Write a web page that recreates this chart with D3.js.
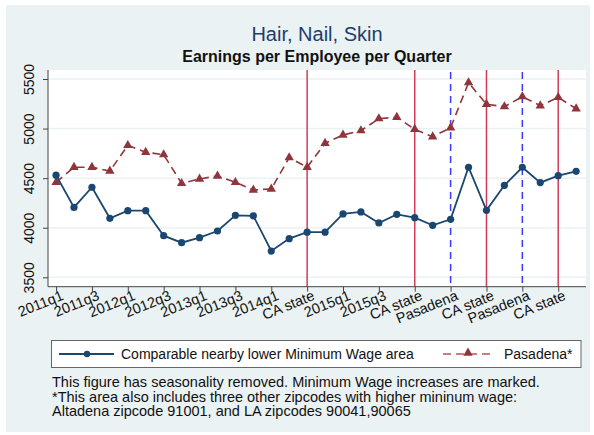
<!DOCTYPE html>
<html><head><meta charset="utf-8">
<script src="https://cdn.jsdelivr.net/npm/d3@7"></script>
<style>body{margin:0;background:#fff;} svg{display:block;font-family:"Liberation Sans",Arial,sans-serif;}</style>
</head><body>
<svg id="c" width="594" height="435"></svg>
<script>
const quarters = ["2011q1","2011q2","2011q3","2011q4","2012q1","2012q2","2012q3","2012q4",
  "2013q1","2013q2","2013q3","2013q4","2014q1","2014q2","2014q3","2014q4",
  "2015q1","2015q2","2015q3","2015q4","2016q1","2016q2","2016q3","2016q4",
  "2017q1","2017q2","2017q3","2017q4","2018q1","2018q2"];
const comparable = [4530,4205,4408,4095,4172,4172,3920,3849,3900,3967,4125,4120,
  3765,3890,3955,3955,4139,4159,4048,4135,4101,4024,4085,4610,4175,4428,4610,4455,4525,4569];
const pasadena = [4458,4610,4610,4572,4831,4761,4737,4448,4492,4522,4458,4381,
  4391,4707,4610,4852,4935,4979,5100,5114,4993,4918,5009,5463,5245,5221,5322,5231,5315,5200];
const xTickQuarters = ["2011q1","2011q3","2012q1","2012q3","2013q1","2013q3","2014q1","2014q3",
  "2015q1","2015q3","2016q1","2016q3","2017q1","2017q3","2018q1"];
const xTickLabels = ["2011q1","2011q3","2012q1","2012q3","2013q1","2013q3","2014q1","CA state",
  "2015q1","2015q3","CA state","Pasadena","CA state","Pasadena","CA state"];
const caIncreases = ["2014q3","2016q1","2017q1","2018q1"];
const pasadenaIncreases = ["2016q3","2017q3"];
const yTicks = [3500,4000,4500,5000,5500];
const seriesNames = ["Comparable nearby lower Minimum Wage area","Pasadena*"];
const noteLines = ["This figure has seasonality removed. Minimum Wage increases are marked.",
  "*This area also includes three other zipcodes with higher mininum wage:",
  "Altadena zipcode 91001, and LA zipcodes 90041,90065"];

const svg = d3.select("#c");
const P = {l:48, r:586, t:70, b:286.7};
const idx = q => quarters.indexOf(q);
const x = d3.scaleLinear().domain([-0.45, 29.55]).range([P.l, P.r]);
const y = d3.scaleLinear().domain([3500,5500]).range([277.3, 79]);
const FF = "Liberation Sans, Arial, sans-serif";

svg.append("rect").attr("x",6).attr("y",5).attr("width",584).attr("height",427).attr("fill","#eaf2f3");
svg.append("rect").attr("x",P.l).attr("y",P.t).attr("width",P.r-P.l).attr("height",P.b-P.t).attr("fill","#fff");

// gridlines
svg.append("g").selectAll("line").data(yTicks).join("line")
  .attr("x1",P.l).attr("x2",P.r).attr("y1",d=>y(d)).attr("y2",d=>y(d))
  .attr("stroke","#eaf2f3").attr("stroke-width",1.5);

// vertical lines
svg.append("g").selectAll("line").data(caIncreases).join("line")
  .attr("x1",d=>x(idx(d))).attr("x2",d=>x(idx(d))).attr("y1",P.t).attr("y2",P.b)
  .attr("stroke","#d23c5a").attr("stroke-width",1.5);
svg.append("g").selectAll("line").data(pasadenaIncreases).join("line")
  .attr("x1",d=>x(idx(d))).attr("x2",d=>x(idx(d))).attr("y1",P.t+2).attr("y2",P.b)
  .attr("stroke","#3a3aff").attr("stroke-width",1.5).attr("stroke-dasharray","7,5");

// axes
const yAxis = svg.append("g").attr("transform",`translate(${P.l},0)`)
  .call(d3.axisLeft(y).tickValues(yTicks).tickSize(5).tickFormat(d3.format("d")));
yAxis.select(".domain").remove();
yAxis.append("line").attr("x1",0).attr("x2",0).attr("y1",P.t).attr("y2",P.b).attr("stroke","#444");
yAxis.selectAll(".tick line").attr("stroke","#444");
yAxis.selectAll(".tick text").attr("transform","rotate(-90)").attr("x",0).attr("y",-14)
  .attr("dy",0).attr("text-anchor","middle").attr("font-size",14).attr("fill","#111")
  .attr("font-family",FF);

const xAxis = svg.append("g").attr("transform",`translate(0,${P.b})`)
  .call(d3.axisBottom(x).tickValues(xTickQuarters.map(idx)).tickSize(5)
    .tickFormat((d,i)=>xTickLabels[i]));
xAxis.select(".domain").remove();
xAxis.append("line").attr("x1",P.l).attr("x2",P.r).attr("stroke","#444");
xAxis.selectAll(".tick line").attr("stroke","#444");
xAxis.selectAll(".tick text").attr("y",0).attr("dy",0)
  .attr("transform","translate(4,3) rotate(-22)").attr("text-anchor","end")
  .attr("dominant-baseline","hanging")
  .attr("font-size",14.5).attr("fill","#111").attr("font-family",FF);

// series
const line = d3.line().x((d,i)=>x(i)).y(d=>y(d));
svg.append("path").datum(pasadena).attr("d",line).attr("fill","none")
  .attr("stroke","#90353b").attr("stroke-width",1.6).attr("stroke-dasharray","8,5");
const tri = d3.symbol().type(d3.symbolTriangle).size(38);
svg.append("g").selectAll("path").data(pasadena).join("path")
  .attr("d",tri).attr("transform",(d,i)=>`translate(${x(i)},${y(d)})`).attr("fill","#90353b");

svg.append("path").datum(comparable).attr("d",line).attr("fill","none")
  .attr("stroke","#1a476f").attr("stroke-width",1.8);
svg.append("g").selectAll("circle").data(comparable).join("circle")
  .attr("cx",(d,i)=>x(i)).attr("cy",d=>y(d)).attr("r",3.6).attr("fill","#1a476f");

// titles
svg.append("text").attr("x",(P.l+P.r)/2).attr("y",41).attr("text-anchor","middle")
  .attr("font-size",20).attr("fill","#1e3d6b").text("Hair, Nail, Skin");
svg.append("text").attr("x",(P.l+P.r)/2).attr("y",62).attr("text-anchor","middle")
  .attr("font-size",16).attr("font-weight","bold").attr("fill","#111").text("Earnings per Employee per Quarter");

// legend
const lg = svg.append("g");
lg.append("rect").attr("x",51.5).attr("y",340.5).attr("width",529.5).attr("height",27)
  .attr("fill","#fff").attr("stroke","#666").attr("stroke-width",1);
lg.append("line").attr("x1",59).attr("x2",114).attr("y1",354).attr("y2",354).attr("stroke","#1a476f").attr("stroke-width",1.8);
lg.append("circle").attr("cx",87).attr("cy",354).attr("r",3.2).attr("fill","#1a476f");
lg.append("text").attr("x",121).attr("y",359).attr("font-size",14).attr("fill","#111").text(seriesNames[0]);
lg.append("line").attr("x1",443).attr("x2",492).attr("y1",354).attr("y2",354).attr("stroke","#c0505a").attr("stroke-width",1.6).attr("stroke-dasharray","8,5");
lg.append("path").attr("d",tri).attr("transform","translate(468,353)").attr("fill","#90353b");
lg.append("text").attr("x",504).attr("y",359).attr("font-size",14).attr("fill","#111").text(seriesNames[1]);

svg.append("g").selectAll("text").data(noteLines).join("text")
  .attr("x",52).attr("y",(d,i)=>387+i*14.5).attr("font-size",14.5).attr("fill","#111").text(d=>d);
</script>
</body></html>
